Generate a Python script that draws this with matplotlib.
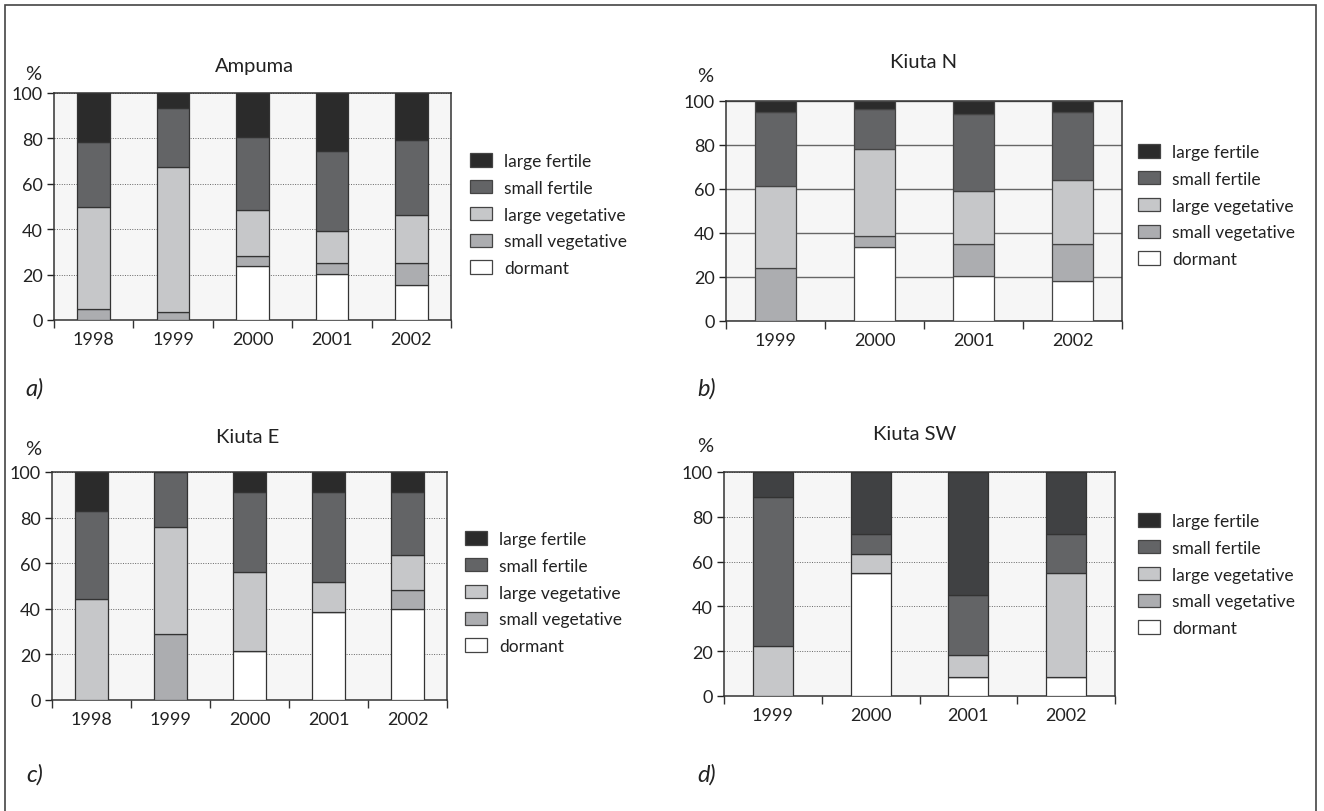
import numpy as np
import matplotlib
matplotlib.use("Agg")
import matplotlib.pyplot as plt
from matplotlib.patches import Patch, Rectangle

plt.rcParams['font.family'] = ['Lato', 'DejaVu Sans']

# stacked order, bottom -> top
series = ['dormant', 'small vegetative', 'large vegetative', 'small fertile', 'large fertile']
legend_order = ['large fertile', 'small fertile', 'large vegetative', 'small vegetative', 'dormant']

# a) Ampuma
ampuma_years = ['1998', '1999', '2000', '2001', '2002']
ampuma_dormant = [0, 0, 23.6, 20.2, 15.4]
ampuma_small_veg = [5.0, 3.5, 4.8, 4.9, 9.7]
ampuma_large_veg = [44.7, 64.1, 20.1, 14.0, 21.1]
ampuma_small_fert = [28.5, 25.9, 32.0, 35.5, 33.1]
ampuma_large_fert = [21.8, 6.5, 19.5, 25.4, 20.7]

# b) Kiuta N
kiutan_years = ['1999', '2000', '2001', '2002']
kiutan_dormant = [0, 33.8, 20.5, 18.3]
kiutan_small_veg = [24.0, 4.9, 14.5, 16.7]
kiutan_large_veg = [37.3, 39.7, 24.1, 28.9]
kiutan_small_fert = [33.9, 18.0, 35.0, 31.3]
kiutan_large_fert = [4.8, 3.6, 5.9, 4.8]

# c) Kiuta E
kiutae_years = ['1998', '1999', '2000', '2001', '2002']
kiutae_dormant = [0, 0, 21.7, 38.6, 39.7]
kiutae_small_veg = [0, 28.9, 0, 0, 8.4]
kiutae_large_veg = [44.4, 46.8, 34.6, 13.0, 15.5]
kiutae_small_fert = [38.3, 24.3, 34.9, 39.6, 27.6]
kiutae_large_fert = [17.3, 0, 8.8, 8.8, 8.8]

# d) Kiuta SW
kiutasw_years = ['1999', '2000', '2001', '2002']
kiutasw_dormant = [0, 54.9, 8.5, 8.5]
kiutasw_small_veg = [0, 0, 0, 0]
kiutasw_large_veg = [22.2, 8.6, 10.0, 46.4]
kiutasw_small_fert = [66.6, 9.0, 26.4, 17.6]
kiutasw_large_fert = [11.2, 27.5, 55.1, 27.5]

colors = {'large fertile': '#2b2b2b', 'small fertile': '#636466',
          'large vegetative': '#c6c7c9', 'small vegetative': '#acadb0',
          'dormant': '#ffffff'}
txt = '#222222'

W, H = 1324, 812
fig = plt.figure(figsize=(W / 100, H / 100), dpi=100)

# outer frame (runs off the bottom)
fig.patches.append(Rectangle((5 / W, -0.02), 1311 / W, 1.02 - 6 / H, transform=fig.transFigure,
                             fill=False, edgecolor='#444444', lw=1.2))


def px_axes(left, top, right, bottom):
    return fig.add_axes([left / W, (H - bottom) / H, (right - left) / W, (bottom - top) / H])


def fig_text(x, y, s, **kw):
    fig.text(x / W, (H - y) / H, s, color=txt, **kw)


def panel(ax, years, data, grid_style, lf_color, edge):
    x = np.arange(len(years))
    bottom = np.zeros(len(years))
    for name, vals in zip(series, data):
        c = lf_color if name == 'large fertile' else colors[name]
        ax.bar(x, vals, width=0.41, bottom=bottom, color=c, edgecolor=edge, linewidth=0.9, zorder=3)
        bottom += np.array(vals)
    ax.set_facecolor('#f6f6f6')
    ax.set_xlim(-0.5, len(years) - 0.5)
    ax.set_ylim(0, 100)
    ax.set_yticks([0, 20, 40, 60, 80, 100])
    ax.set_xticks(x)
    ax.set_xticklabels(years)
    ax.set_xticks(np.arange(len(years) + 1) - 0.5, minor=True)
    ax.tick_params(axis='x', which='major', length=0, labelsize=13, pad=8, colors=txt)
    ax.tick_params(axis='x', which='minor', length=6, width=1, direction='out', color='#333333')
    ax.tick_params(axis='y', length=5, width=1, labelsize=13, pad=3, colors=txt)
    for s in ax.spines.values():
        s.set_color('#333333')
        s.set_linewidth(1.1)
    if grid_style == 'solid':
        ax.grid(axis='y', color='#666666', linestyle='-', linewidth=1.0, zorder=1)
    else:
        ax.grid(axis='y', color='#666666', linestyle=(0, (1, 1.5)), linewidth=0.7, zorder=1)


def legend(ax, x, y):
    handles = [Patch(facecolor=colors[n], edgecolor='#444444', linewidth=0.9) for n in legend_order]
    ax.legend(handles, legend_order, loc='upper left', bbox_to_anchor=(x / W, (H - y) / H),
              bbox_transform=fig.transFigure, frameon=False, fontsize=12.5,
              handlelength=1.25, handleheight=0.8, handletextpad=0.7,
              labelspacing=0.62, borderaxespad=0, borderpad=0, labelcolor=txt)


ax_a = px_axes(54, 94, 451, 321)
panel(ax_a, ampuma_years,
      [ampuma_dormant, ampuma_small_veg, ampuma_large_veg, ampuma_small_fert, ampuma_large_fert],
      'dotted', colors['large fertile'], '#333333')
legend(ax_a, 470, 154)

ax_b = px_axes(726, 102, 1122, 322)
panel(ax_b, kiutan_years,
      [kiutan_dormant, kiutan_small_veg, kiutan_large_veg, kiutan_small_fert, kiutan_large_fert],
      'solid', colors['large fertile'], '#444444')
legend(ax_b, 1138, 145)

ax_c = px_axes(52, 473, 447, 701)
panel(ax_c, kiutae_years,
      [kiutae_dormant, kiutae_small_veg, kiutae_large_veg, kiutae_small_fert, kiutae_large_fert],
      'dotted', colors['large fertile'], '#333333')
legend(ax_c, 465, 532)

ax_d = px_axes(724, 473, 1115, 697)
panel(ax_d, kiutasw_years,
      [kiutasw_dormant, kiutasw_small_veg, kiutasw_large_veg, kiutasw_small_fert, kiutasw_large_fert],
      'dotted', '#404143', '#333333')
legend(ax_d, 1138, 514)

# panel titles
for xp, yp, t in [(254, 72, 'Ampuma'), (924, 68, 'Kiuta N'), (248, 443, 'Kiuta E'), (915, 440, 'Kiuta SW')]:
    fig_text(xp, yp, t, fontsize=14.5, ha='center', va='baseline')

# % labels and panel letters
for xp, yp in [(33, 74), (705, 76), (33, 450), (705, 447)]:
    fig_text(xp, yp, '%', fontsize=14.5, ha='center', va='center')
for xp, yp, t in [(25, 389, 'a)'), (697, 389, 'b)'), (26, 775, 'c)'), (697, 775, 'd)')]:
    fig_text(xp, yp, t, fontsize=17, style='italic', ha='left', va='center')

fig.savefig('out.png', dpi=100, facecolor='white')
